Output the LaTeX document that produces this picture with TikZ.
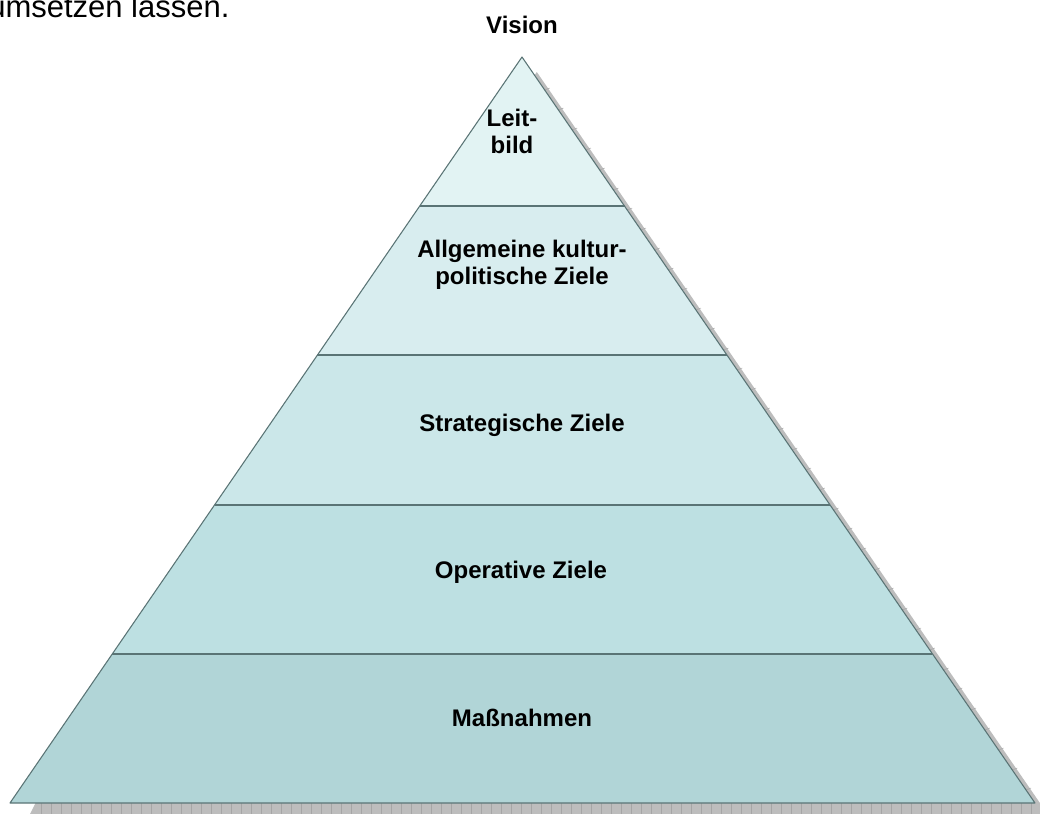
\documentclass[tikz,border=0pt]{standalone}
\usepackage{fontspec}
\setmainfont{Liberation Sans}
\usepackage{xcolor}
\usepackage{tikz}
\usetikzlibrary{calc}

\definecolor{layerA}{HTML}{E2F3F3}
\definecolor{layerB}{HTML}{D8EDEF}
\definecolor{layerC}{HTML}{CBE7E9}
\definecolor{layerD}{HTML}{BDE0E2}
\definecolor{layerE}{HTML}{B1D5D7}
\definecolor{edgegray}{HTML}{5A7475}
\definecolor{shadowgray}{HTML}{BDBDBD}

\tikzset{
    layertext/.style={font=\bfseries\fontsize{18}{20.25}\selectfont, align=center, inner sep=0pt},
    pagetext/.style={font=\fontsize{23.25}{28}\selectfont, inner sep=0pt},
    divider/.style={draw=edgegray, line width=1.4pt},
    outline/.style={draw=edgegray, line width=0.8pt, line join=round},
}

\begin{document}
\begin{tikzpicture}[x=0.75pt,y=-0.75pt]
        \useasboundingbox (0,0) rectangle (1040,814);
        \clip (0,0) rectangle (1040,814);

        % Cut-off line of the page text
        \node[pagetext, anchor=base west] (pageline) at (-12,17) {umsetzen lassen.};

        % Shadow behind the pyramid
        \fill[shadowgray] (536.8,72) -- (1047.5,814) -- (30,814) -- (35.5,803) -- cycle;
        \foreach \x in {41,51,...,1040} {
            \draw[gray!70, line width=0.4pt] (\x,803) -- (\x,814);
        }
        \foreach \y in {90,110,...,800} {
            \draw[gray!70, line width=0.4pt] (522+\y*0.6877-57*0.6877,\y) -- ++(5,-2);
        }

        % Pyramid corners
        \coordinate (apex) at (522,57);
        \coordinate (bl) at (10,803);
        \coordinate (br) at (1035,803);

        % Layers
        \foreach \t/\c [remember=\t as \s (initially 0)] in {0.2/layerA,0.4/layerB,0.6/layerC,0.8/layerD,1/layerE} {
            \fill[\c] ($(apex)!\s!(bl)$) -- ($(apex)!\t!(bl)$) -- ($(apex)!\t!(br)$) -- ($(apex)!\s!(br)$) -- cycle;
        }
        \foreach \t in {0.2,0.4,0.6,0.8} {
            \draw[divider] ($(apex)!\t!(bl)$) -- ($(apex)!\t!(br)$);
        }
        \draw[outline] (apex) -- (bl) -- (br) -- cycle;

        % Labels
        \node[layertext, anchor=base] (vision) at (522,33) {Vision};
        \node[layertext] (leitbild) at (512,131) {Leit-\\bild};
        \node[layertext] (kultur) at (522,265) {Allgemeine kultur-\\politische Ziele};
        \node[layertext, anchor=base] (strategie) at (522,431) {Strategische Ziele};
        \node[layertext, anchor=base] (operativ) at (521,578) {Operative Ziele};
        \node[layertext, anchor=base] (massnahmen) at (522,726) {Maßnahmen};
\end{tikzpicture}
\end{document}
